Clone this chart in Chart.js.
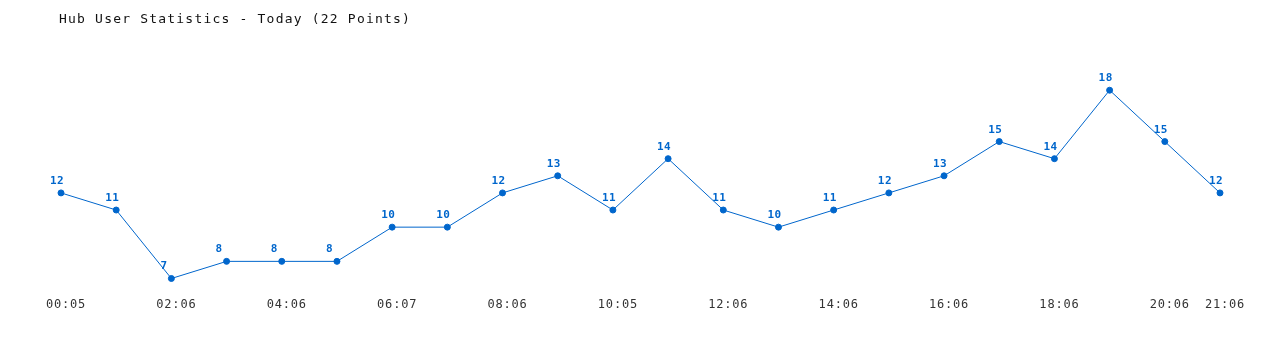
<!DOCTYPE html>
<html>
<head>
<meta charset="utf-8">
<script src="https://cdn.jsdelivr.net/npm/chart.js@4"></script>
<style>
    html, body { margin: 0; padding: 0; background: #fff; }
    #wrap { width: 1280px; height: 350px; }
</style>
</head>
<body>
<div id="wrap"><canvas id="mainChart"></canvas></div>
<script>
// Hub users per hour, today
const timeLabels = ['00:05', '01:05', '02:06', '03:06', '04:06', '05:06', '06:07', '07:06',
    '08:06', '09:06', '10:05', '11:06', '12:06', '13:06', '14:06', '15:06', '16:06',
    '17:06', '18:06', '19:06', '20:06', '21:06'];
const userCounts = [12, 11, 7, 8, 8, 8, 10, 10, 12, 13, 11, 14, 11, 10, 11, 12, 13, 15, 14, 18, 15, 12];
const titleText = 'Hub User Statistics - Today (22 Points)';

const lineColor = '#0066cc';
const monoFont = '"DejaVu Sans Mono", monospace';

// slightly wider letter spacing for axis text, like the original
const spacing = {
    id: 'spacing',
    beforeDraw(chart) {
        chart.ctx.letterSpacing = '0.8px';
    },
    afterDraw(chart) {
        chart.ctx.letterSpacing = '0px';
    }
};

// title drawn by hand so it can sit exactly where the original has it
const titleDraw = {
    id: 'titleDraw',
    afterDraw(chart) {
        const ctx = chart.ctx;
        ctx.save();
        ctx.letterSpacing = '1.2px';
        ctx.font = '13px ' + monoFont;
        ctx.fillStyle = '#111';
        ctx.textAlign = 'left';
        ctx.textBaseline = 'alphabetic';
        ctx.fillText(titleText, 59, 23);
        ctx.restore();
    }
};

// draws the value above each point
const valueLabels = {
    id: 'valueLabels',
    afterDatasetsDraw(chart) {
        const ctx = chart.ctx;
        const meta = chart.getDatasetMeta(0);
        ctx.save();
        ctx.letterSpacing = '0.4px';
        ctx.font = 'bold 11px ' + monoFont;
        ctx.fillStyle = lineColor;
        ctx.textAlign = 'left';
        ctx.textBaseline = 'alphabetic';
        meta.data.forEach((pt, i) => {
            ctx.fillText(String(chart.data.datasets[0].data[i]), pt.x - 11, pt.y - 9);
        });
        ctx.restore();
    }
};

new Chart(document.getElementById('mainChart'), {
    type: 'line',
    data: {
        labels: timeLabels,
        datasets: [{
            data: userCounts,
            borderColor: lineColor,
            backgroundColor: lineColor,
            borderWidth: 1,
            pointRadius: 3,
            pointHoverRadius: 3,
            tension: 0
        }]
    },
    options: {
        responsive: true,
        maintainAspectRatio: false,
        animation: false,
        layout: {
            padding: { left: 61, right: 60, top: 56, bottom: 36 }
        },
        plugins: {
            legend: { display: false },
            tooltip: { enabled: false },
            title: { display: false }
        },
        scales: {
            x: {
                offset: false,
                grid: { display: false, drawTicks: false },
                border: { display: false },
                ticks: {
                    color: '#333',
                    font: { family: monoFont, size: 12 },
                    maxRotation: 0,
                    autoSkip: false,
                    labelOffset: 5,
                    padding: 2,
                    callback(value, index) {
                        if (index % 2 === 0 || index === timeLabels.length - 1) {
                            return timeLabels[index];
                        }
                        return '';
                    }
                }
            },
            y: {
                display: false,
                min: 6,
                max: 20
            }
        }
    },
    plugins: [spacing, valueLabels, titleDraw]
});
</script>
</body>
</html>
